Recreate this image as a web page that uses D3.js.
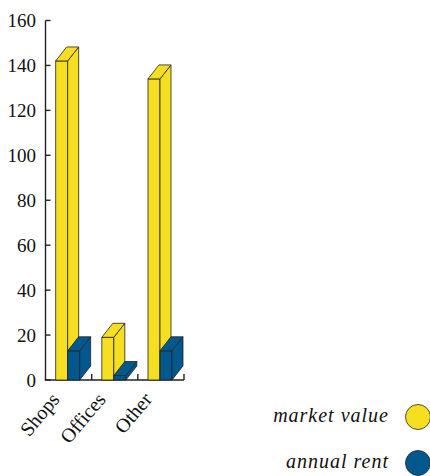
<!DOCTYPE html>
<html>
<head>
<meta charset="utf-8">
<script src="https://cdn.jsdelivr.net/npm/d3@7"></script>
<style>
  body { margin: 0; background: #fff; }
  text { font-family: 'Liberation Serif', 'Times New Roman', serif; fill: #111; }
</style>
</head>
<body>
<svg id="chart" width="430" height="476"></svg>
<script>
const categories = ['Shops', 'Offices', 'Other']
const seriesNames = ['market value', 'annual rent']
const marketValue = [142, 19, 134]
const annualRent = [13, 2, 13]
const yTicks = [0, 20, 40, 60, 80, 100, 120, 140, 160]
const colors = ['#f6df20', '#01588f']

const svg = d3.select('#chart')
const depth = { dx: 11, dy: -14 }

const x = d3.scaleBand()
  .domain(categories)
  .range([45.5, 184])
  .paddingInner(0)
  .paddingOuter(0)

const y = d3.scaleLinear()
  .domain([0, 160])
  .range([380, 20.5])

// 3d column: front, side, top
function drawBar (g, x0, w, v, color) {
  const y0 = y(0)
  const y1 = y(v)
  const x1 = x0 + w
  const bar = g.append('g')
    .attr('fill', color)
    .attr('stroke', '#222')
    .attr('stroke-width', 0.8)
    .attr('stroke-linejoin', 'round')
  bar.append('rect')
    .attr('x', x0)
    .attr('y', y1)
    .attr('width', w)
    .attr('height', y0 - y1)
  bar.append('path')
    .attr('d', 'M' + x1 + ',' + y0 + 'L' + (x1 + depth.dx) + ',' + (y0 + depth.dy) +
      'L' + (x1 + depth.dx) + ',' + (y1 + depth.dy) + 'L' + x1 + ',' + y1 + 'Z')
  bar.append('path')
    .attr('d', 'M' + x0 + ',' + y1 + 'L' + (x0 + depth.dx) + ',' + (y1 + depth.dy) +
      'L' + (x1 + depth.dx) + ',' + (y1 + depth.dy) + 'L' + x1 + ',' + y1 + 'Z')
}

// axes
const axisG = svg.append('g')
  .attr('stroke', '#222')
  .attr('stroke-width', 1.4)

axisG.append('line')
  .attr('x1', x.range()[0]).attr('x2', x.range()[0])
  .attr('y1', y(160)).attr('y2', y(0))
axisG.append('line')
  .attr('x1', x.range()[0] - 0.7).attr('x2', x.range()[1])
  .attr('y1', y(0)).attr('y2', y(0))

axisG.selectAll('.ytick')
  .data(yTicks)
  .enter()
  .append('line')
  .attr('x1', x.range()[0])
  .attr('x2', x.range()[0] + 5)
  .attr('y1', (d) => y(d))
  .attr('y2', (d) => y(d))

axisG.selectAll('.xtick')
  .data(categories)
  .enter()
  .append('line')
  .attr('x1', (d) => x(d) + x.bandwidth())
  .attr('x2', (d) => x(d) + x.bandwidth())
  .attr('y1', y(0))
  .attr('y2', y(0) - 6)

svg.append('g')
  .selectAll('text')
  .data(yTicks)
  .enter()
  .append('text')
  .attr('x', 36)
  .attr('y', (d) => y(d))
  .attr('dy', '0.35em')
  .attr('text-anchor', 'end')
  .attr('font-size', 19)
  .text((d) => d)

// bars
const barsG = svg.append('g')
categories.forEach((c, i) => {
  const bw = x.bandwidth() * 0.26
  const x0 = x(c) + x.bandwidth() * 0.22
  drawBar(barsG, x0, bw, marketValue[i], colors[0])
  drawBar(barsG, x0 + bw, bw, annualRent[i], colors[1])
})

// category labels
svg.append('g')
  .selectAll('text')
  .data(categories)
  .enter()
  .append('text')
  .attr('text-anchor', 'end')
  .attr('font-size', 20)
  .attr('transform', (d) => 'translate(' + (x(d) + x.bandwidth() / 2 - 8) + ',' + 400 + ') rotate(-50)')
  .text((d) => d)

// legend
const legend = svg.append('g')
  .selectAll('g')
  .data(seriesNames)
  .enter()
  .append('g')
  .attr('transform', (d, i) => 'translate(0,' + (417 + i * 46) + ')')

legend.append('text')
  .attr('x', 389)
  .attr('y', 5)
  .attr('text-anchor', 'end')
  .attr('font-size', 20)
  .attr('font-style', 'italic')
  .attr('letter-spacing', 1)
  .text((d) => d)

legend.append('circle')
  .attr('cx', 418)
  .attr('cy', 0)
  .attr('r', 12.5)
  .attr('fill', (d, i) => colors[i])
  .attr('stroke', '#222')
  .attr('stroke-width', 0.8)
</script>
</body>
</html>
